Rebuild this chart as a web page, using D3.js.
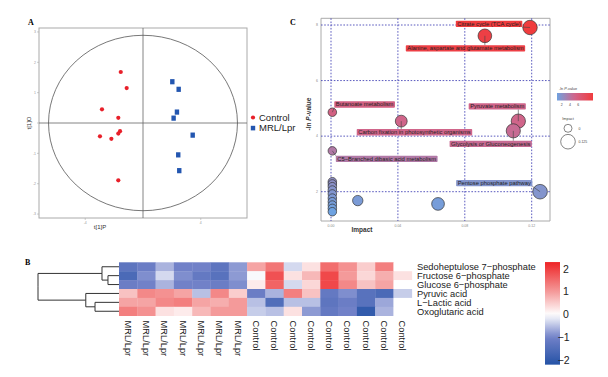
<!DOCTYPE html>
<html>
<head>
<meta charset="utf-8">
<script src="https://cdn.jsdelivr.net/npm/d3@7"></script>
<style>
  body { margin: 0; background: #fff; }
  text { font-family: "Liberation Sans", Arial, sans-serif; }
  .panel-letter { font-family: "Liberation Serif", "Times New Roman", serif; font-weight: bold; font-size: 8px; }
</style>
</head>
<body>
<div id="chart-area"></div>
<script>

// ---- Panel A: OPLS-DA scores ----
var controlT1 = [-1.54, -1.13, -2.84, -1.71, -1.59, -1.71, -2.98, -2.19, -1.71];
var controlT1o = [1.68, 1.15, 0.45, 0.17, -0.27, -0.35, -0.44, -0.52, -1.89];
var mrlT1 = [2.03, 2.47, 2.35, 2.12, 3.44, 2.44, 2.51];
var mrlT1o = [1.36, 1.11, 0.36, 0.16, -0.40, -1.05, -1.57];
var ellipseRadii = [6.54, 2.89];
var scoreYTicks = [3, 2, 1, 0, -1, -2, -3];
var scoreXTicks = [-4, 4];
var groupNames = ["Control", "MRL/Lpr"];

// ---- Panel B: heatmap ----
var samples = ["MRL/Lpr", "MRL/Lpr", "MRL/Lpr", "MRL/Lpr", "MRL/Lpr", "MRL/Lpr", "MRL/Lpr",
  "Control", "Control", "Control", "Control", "Control", "Control", "Control", "Control", "Control"];
var metabolites = ["Sedoheptulose 7\u2212phosphate", "Fructose 6\u2212phosphate", "Glucose 6\u2212phosphate",
  "Pyruvic acid", "L\u2212Lactic acid", "Oxoglutaric acid"];
var sedoheptulose = [-1.3, -1.1, -0.6, -1.0, -1.0, -1.3, -0.8, 0.9, 1.4, -0.3, 0.3, 1.5, 1.1, 0.5, 1.3, 0.0];
var fructose = [-1.6, -0.9, -0.3, -0.9, -1.2, -1.4, -0.8, -0.05, 1.8, 0.3, 0.7, 1.9, 1.0, 0.4, 0.8, 0.3];
var glucose = [-1.1, -1.0, -0.6, -1.0, -1.0, -1.1, -0.9, 0.2, 1.6, -0.3, 0.4, 1.9, 1.2, 0.6, 0.9, 0.0];
var pyruvic = [0.6, 1.2, 1.1, 0.9, -0.5, 1.2, 0.5, -1.1, -0.6, 1.3, 0.6, -1.2, -0.9, -1.4, -1.6, -0.4];
var lactic = [0.9, 0.9, 1.2, 1.3, 0.9, 0.8, 1.0, -0.5, -1.5, -0.5, -0.5, -1.3, -1.1, -1.4, -0.7, 0.0];
var oxoglutaric = [1.3, 1.1, 0.3, 0.2, 0.7, 1.0, 1.0, -0.4, -0.5, 0.3, -0.8, -1.2, -1.0, -2.0, -0.6, 0.0];
var heatRows = [sedoheptulose, fructose, glucose, pyruvic, lactic, oxoglutaric];
var heatLegendTicks = [2, 1, 0, -1, -2];
// row dendrogram (leaf = row index, height = merge distance)
var rowTree = {height: 1, children: [
  {height: 0.21, children: [{leaf: 0}, {height: 0.136, children: [{leaf: 1}, {leaf: 2}]}]},
  {height: 0.41, children: [{leaf: 3}, {height: 0.296, children: [{leaf: 4}, {leaf: 5}]}]}
]};

// ---- Panel C: pathway impact ----
var pathways = ["Citrate cycle (TCA cycle)", "Alanine, aspartate and glutamate metabolism",
  "Butanoate metabolism", "Pyruvate metabolism", "Carbon fixation in photosynthetic organisms",
  "Glycolysis or Gluconeogenesis", "C5\u2212Branched dibasic acid metabolism", "Pentose phosphate pathway",
  "", "", "", "", "", "", "", "", "", "", "", ""];
var impact = [0.119, 0.092, 0.0008, 0.112, 0.042, 0.109, 0.0008, 0.125,
  0.016, 0.064, 0.0008, 0.0008, 0.0008, 0.0008, 0.0008, 0.0008, 0.0008, 0.0008, 0.0008, 0.0008];
var negLogP = [7.91, 7.61, 4.86, 4.54, 4.54, 4.19, 3.47, 2.0,
  1.68, 1.56, 2.36, 2.28, 2.18, 2.06, 1.92, 1.77, 1.64, 1.52, 1.40, 1.28];
// where the repelled labels sit (data units)
var labelImpact = [0.0945, 0.0804, 0.0201, 0.0994, 0.0499, 0.0955, 0.0333, 0.0976];
var labelNegLogP = [8.04, 7.16, 5.14, 5.07, 4.14, 3.72, 3.18, 2.31];
var impactTicks = [0, 0.04, 0.08, 0.12];
var pTicks = [2, 4, 6, 8];
var pLegendTicks = [2, 4, 6];
var impactLegend = [0, 0.125];

var svg = d3.select("#chart-area").append("svg")
    .attr("width", 608)
    .attr("height", 377);

// ================= Panel A =================
var ax = d3.scaleLinear().domain([-7.2, 7.2]).range([39, 247]);
var ay = d3.scaleLinear().domain([-3.13, 3.13]).range([218, 28]);
var gA = svg.append("g");

gA.append("rect")
    .attr("x", ax(-7.2)).attr("y", ay(3.13))
    .attr("width", ax(7.2) - ax(-7.2)).attr("height", ay(-3.13) - ay(3.13))
    .attr("fill", "none").attr("stroke", "#aaa").attr("stroke-width", 1);

gA.selectAll(".ytick").data(scoreYTicks).join("line")
    .attr("x1", ax(-7.2) - 2).attr("x2", ax(-7.2))
    .attr("y1", d => ay(d)).attr("y2", d => ay(d))
    .attr("stroke", "#aaa").attr("stroke-width", 0.6);
gA.selectAll(".ylab").data(scoreYTicks).join("text")
    .attr("x", ax(-7.2) - 3).attr("y", d => ay(d))
    .attr("dy", "0.35em").attr("text-anchor", "end")
    .attr("font-size", 3.5).attr("fill", "#999")
    .text(d => d === 0 ? "" : d);
gA.selectAll(".xtick").data(scoreXTicks).join("line")
    .attr("x1", d => ax(d)).attr("x2", d => ax(d))
    .attr("y1", ay(-3.13)).attr("y2", ay(-3.13) + 2)
    .attr("stroke", "#aaa").attr("stroke-width", 0.6);
gA.selectAll(".xlab").data(scoreXTicks).join("text")
    .attr("x", d => ax(d)).attr("y", ay(-3.13) + 6)
    .attr("text-anchor", "middle")
    .attr("font-size", 3.5).attr("fill", "#999")
    .text(d => d);

// crosshair
gA.append("line").attr("x1", ax(-7.2)).attr("x2", ax(7.2)).attr("y1", ay(0)).attr("y2", ay(0))
    .attr("stroke", "#666").attr("stroke-width", 0.8);
gA.append("line").attr("x1", ax(0)).attr("x2", ax(0)).attr("y1", ay(3.13)).attr("y2", ay(-3.13))
    .attr("stroke", "#666").attr("stroke-width", 0.8);

gA.append("ellipse")
    .attr("cx", ax(0)).attr("cy", ay(0))
    .attr("rx", ax(ellipseRadii[0]) - ax(0)).attr("ry", ay(0) - ay(ellipseRadii[1]))
    .attr("fill", "none").attr("stroke", "#555").attr("stroke-width", 0.8);

gA.selectAll(".ctrl").data(controlT1).join("circle")
    .attr("cx", d => ax(d)).attr("cy", (d, i) => ay(controlT1o[i]))
    .attr("r", 2.1).attr("fill", "#e8202a");
gA.selectAll(".mrl").data(mrlT1).join("rect")
    .attr("x", d => ax(d) - 2.2).attr("y", (d, i) => ay(mrlT1o[i]) - 2.6)
    .attr("width", 4.4).attr("height", 5.2).attr("fill", "#2356b0");

gA.append("text")
    .attr("transform", "translate(31," + ay(0) + ") rotate(-90)")
    .attr("text-anchor", "middle").attr("font-size", 6).attr("fill", "#333")
    .text("t[1]O");
gA.append("text")
    .attr("x", 100).attr("y", 229)
    .attr("text-anchor", "middle").attr("font-size", 6).attr("fill", "#333")
    .text("t[1]P");

// legend
gA.append("circle").attr("cx", 253).attr("cy", 117.5).attr("r", 2.1).attr("fill", "#e8202a");
gA.append("rect").attr("x", 250.8).attr("y", 125.8).attr("width", 4.4).attr("height", 4.6).attr("fill", "#2356b0");
gA.selectAll(".leg").data(groupNames).join("text")
    .attr("x", 259).attr("y", (d, i) => 117.5 + i * 10.5)
    .attr("dy", "0.35em").attr("font-size", 9.5).attr("fill", "#222")
    .text(d => d);

svg.append("text").attr("class", "panel-letter").attr("x", 28).attr("y", 25).text("A");
svg.append("text").attr("class", "panel-letter").attr("x", 290).attr("y", 25).text("C");
svg.append("text").attr("class", "panel-letter").attr("x", 25).attr("y", 265).text("B");

// ================= Panel C =================
var cx = d3.scaleLinear().domain([0, 0.04]).range([331, 397.9]);
var cy = d3.scaleLinear().domain([2, 8]).range([191.7, 25]);
var cColor = d3.scaleLinear().domain([1.3, 4.5, 7.9]).range(["#6fa2e0", "#d0658b", "#f03c3e"]);
var cSize = d3.scaleSqrt().domain([0, 0.125]).range([4, 7.3]);
var cLeft = 321, cRight = 550, cTop = 18.3, cBottom = 221;
var gC = svg.append("g");

gC.append("line").attr("x1", cLeft).attr("x2", cRight).attr("y1", cTop).attr("y2", cTop).attr("stroke", "#aaa");
gC.append("line").attr("x1", cLeft).attr("x2", cLeft).attr("y1", cTop).attr("y2", cBottom).attr("stroke", "#aaa");
gC.append("line").attr("x1", cRight).attr("x2", cRight).attr("y1", cTop).attr("y2", cBottom).attr("stroke", "#aaa");
gC.append("line").attr("x1", cLeft).attr("x2", cRight).attr("y1", cBottom).attr("y2", cBottom).attr("stroke", "#aaa");

gC.selectAll(".vgrid").data(impactTicks).join("line")
    .attr("x1", d => cx(d)).attr("x2", d => cx(d)).attr("y1", cTop).attr("y2", cBottom)
    .attr("stroke", "#4848b8").attr("stroke-width", 0.9).attr("stroke-dasharray", "1.6,1.6");
gC.selectAll(".hgrid").data(pTicks).join("line")
    .attr("x1", cLeft).attr("x2", cRight).attr("y1", d => cy(d)).attr("y2", d => cy(d))
    .attr("stroke", "#4848b8").attr("stroke-width", 0.9).attr("stroke-dasharray", "1.6,1.6");
gC.selectAll(".plab").data(pTicks).join("text")
    .attr("x", cLeft - 3).attr("y", d => cy(d)).attr("dy", "0.35em")
    .attr("text-anchor", "end").attr("font-size", 3.5).attr("fill", "#888")
    .text(d => d);
gC.selectAll(".ilab").data(impactTicks).join("text")
    .attr("x", d => cx(d)).attr("y", cBottom + 6).attr("text-anchor", "middle")
    .attr("font-size", 3.5).attr("fill", "#888")
    .text(d => d.toFixed(2));

gC.append("text")
    .attr("transform", "translate(311,114) rotate(-90)")
    .attr("text-anchor", "middle").attr("font-size", 6.5).attr("font-weight", "bold").attr("fill", "#333")
    .html("-ln <tspan font-style='italic'>P</tspan>-value");
gC.append("text")
    .attr("x", 362).attr("y", 232)
    .attr("text-anchor", "middle").attr("font-size", 6.5).attr("font-weight", "bold").attr("fill", "#333")
    .text("Impact");

var order = d3.range(impact.length).sort((a, b) => impact[b] - impact[a]);
gC.selectAll(".bubble").data(order).join("circle")
    .attr("cx", i => cx(impact[i])).attr("cy", i => cy(negLogP[i]))
    .attr("r", i => cSize(impact[i]))
    .attr("fill", i => cColor(negLogP[i]))
    .attr("stroke", "#333").attr("stroke-width", 0.7);

// labels
var labG = gC.append("g");
labelImpact.forEach(function(lx, i) {
  var tx = cx(lx), ty = cy(labelNegLogP[i]);
  var t = labG.append("text").attr("x", tx).attr("y", ty).attr("dy", "0.35em")
      .attr("text-anchor", "middle").attr("font-size", 5.8).attr("fill", "#222")
      .text(pathways[i]);
  var w = t.node().getComputedTextLength() + 3, h = 6.4;
  var bx = tx - w / 2, by = ty - h / 2;
  labG.insert("rect", "text").attr("x", bx).attr("y", by).attr("width", w).attr("height", h)
      .attr("rx", 0.8).attr("fill", cColor(negLogP[i]));
  // segment from point to nearest box edge
  var px = cx(impact[i]), py = cy(negLogP[i]);
  var nx = Math.max(bx, Math.min(px, bx + w)), ny = Math.max(by, Math.min(py, by + h));
  if (Math.hypot(nx - px, ny - py) > cSize(impact[i]) - 0.5) {
    labG.append("line").attr("x1", px).attr("y1", py).attr("x2", nx).attr("y2", ny)
        .attr("stroke", "#444").attr("stroke-width", 0.6);
  }
});

// colour legend
var defs = svg.append("defs");
var grad = defs.append("linearGradient").attr("id", "pgrad");
d3.range(0, 1.01, 0.1).forEach(function(t) {
  grad.append("stop").attr("offset", t).attr("stop-color", cColor(1.3 + t * 6.6));
});
var pl = d3.scaleLinear().domain([2, 6]).range([561.7, 578.3]);
gC.append("text").attr("x", 568).attr("y", 90).attr("text-anchor", "middle")
    .attr("font-size", 3.8).attr("fill", "#444").html("-ln <tspan font-style='italic'>P</tspan>-value");
gC.append("rect").attr("x", 557).attr("y", 93).attr("width", 36).attr("height", 7.5).attr("fill", "url(#pgrad)");
gC.selectAll(".plg").data(pLegendTicks).join("text")
    .attr("x", d => pl(d)).attr("y", 106).attr("text-anchor", "middle")
    .attr("font-size", 3.5).attr("fill", "#444").text(d => d);
gC.append("text").attr("x", 568).attr("y", 119.5).attr("text-anchor", "middle")
    .attr("font-size", 3.8).attr("fill", "#444").text("Impact");
gC.selectAll(".ilg").data(impactLegend).join("circle")
    .attr("cx", 568).attr("cy", (d, i) => i === 0 ? 128.3 : 141.7)
    .attr("r", d => cSize(d)).attr("fill", "none").attr("stroke", "#333").attr("stroke-width", 0.6);
gC.selectAll(".ilgt").data(impactLegend).join("text")
    .attr("x", 578.5).attr("y", (d, i) => i === 0 ? 128.3 : 141.7).attr("dy", "0.35em")
    .attr("font-size", 3.5).attr("fill", "#444").text(d => d);

// ================= Panel B =================
var hx = d3.scaleBand().domain(d3.range(samples.length)).range([119, 411.8]);
var hy = d3.scaleBand().domain(d3.range(metabolites.length)).range([262.3, 315.7]);
var hColor = d3.scaleLinear()
    .domain([-2.3, -1, 0, 1, 2.3])
    .range(["#1f4fa3", "#7181c8", "#ffffff", "#f49a9a", "#ee2426"]);
var gB = svg.append("g");

heatRows.forEach(function(row, r) {
  gB.selectAll(".cell-" + r).data(row).join("rect")
      .attr("x", (d, c) => hx(c)).attr("y", hy(r))
      .attr("width", hx.bandwidth() + 0.3).attr("height", hy.bandwidth() + 0.3)
      .attr("fill", d => hColor(d));
});

gB.selectAll(".rowlab").data(metabolites).join("text")
    .attr("x", 417).attr("y", (d, i) => hy(i) + hy.bandwidth() / 2)
    .attr("dy", "0.35em").attr("font-size", 9.3).attr("fill", "#222")
    .text(d => d);
gB.selectAll(".collab").data(samples).join("text")
    .attr("transform", (d, i) => "translate(" + (hx(i) + hx.bandwidth() / 2) + ",320.5) rotate(90)")
    .attr("dy", "0.35em").attr("font-size", 9.3).attr("fill", "#222")
    .text(d => d);

// dendrogram
var dx = d3.scaleLinear().domain([0, 1]).range([119, 38]);
var root = d3.hierarchy(rowTree);
root.eachAfter(function(n) {
  if (n.data.leaf !== undefined) { n.py = hy(n.data.leaf) + hy.bandwidth() / 2; n.h = 0; }
  else { n.py = d3.mean(n.children, c => c.py); n.h = n.data.height; }
});
root.descendants().filter(n => n.children).forEach(function(n) {
  n.children.forEach(function(c) {
    gB.append("path")
        .attr("d", "M" + dx(n.h) + "," + n.py + "V" + c.py + "H" + dx(c.h))
        .attr("fill", "none").attr("stroke", "#333").attr("stroke-width", 1);
  });
});

// heatmap legend
var ly = d3.scaleLinear().domain([0, 1]).range([314.5, 291.7]);
var hgrad = defs.append("linearGradient").attr("id", "hgrad")
    .attr("x1", 0).attr("x2", 0).attr("y1", 0).attr("y2", 1);
d3.range(0, 1.001, 0.05).forEach(function(t) {
  hgrad.append("stop").attr("offset", t).attr("stop-color", hColor(2.3 - t * 4.5));
});
gB.append("rect").attr("x", 545).attr("y", ly(2.3)).attr("width", 15)
    .attr("height", ly(-2.2) - ly(2.3)).attr("fill", "url(#hgrad)");
gB.selectAll(".hlg").data(heatLegendTicks).join("text")
    .attr("x", d => d < 0 ? 557.5 : 563).attr("y", d => ly(d)).attr("dy", "0.35em")
    .attr("font-size", 10.5).attr("fill", "#222")
    .text(d => d < 0 ? "\u2212" + Math.abs(d) : d);

</script>
</body>
</html>
